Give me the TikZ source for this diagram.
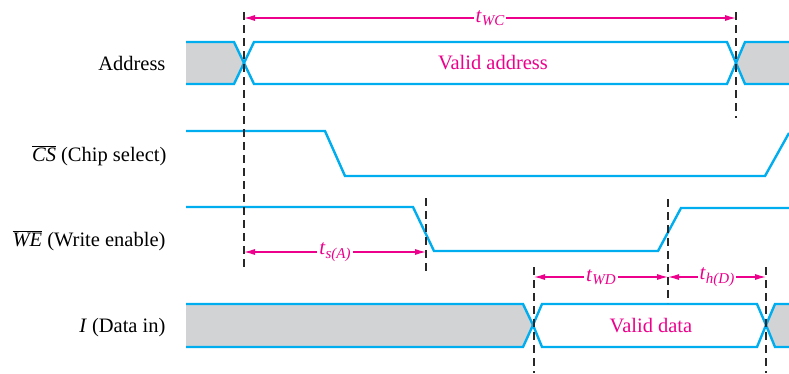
\documentclass[tikz,border=0pt]{standalone}
\usepackage{fontspec}
\setmainfont{Liberation Serif}
\usetikzlibrary{arrows.meta}
\definecolor{sigblue}{RGB}{0,174,239}
\definecolor{tmag}{RGB}{236,0,140}
\definecolor{busgray}{RGB}{209,211,212}
\definecolor{dashgray}{RGB}{40,40,40}
\newcommand{\tsub}[1]{\textit{t}\raisebox{-0.35ex}{\fontsize{15}{17}\selectfont\textit{#1}}}
\tikzset{
  sig/.style={draw=sigblue, line width=2.4pt, line join=miter},
  grayfill/.style={fill=busgray},
  guide/.style={draw=dashgray, line width=1.1pt, dash pattern=on 8pt off 5pt},
  tarrow/.style={draw=tmag, line width=1.2pt, {Latex[length=11pt,width=6pt]}-{Latex[length=11pt,width=6pt]}},
  tlabel/.style={fill=white, text=tmag, inner sep=2pt, font=\fontsize{21}{25}\selectfont},
  siglabel/.style={anchor=base east, font=\fontsize{20.5}{24}\selectfont},
  buslabel/.style={anchor=base, text=tmag, font=\fontsize{20.5}{24}\selectfont}
}
\begin{document}
\begin{tikzpicture}[x=1pt,y=-1pt]
\useasboundingbox (0,0) rectangle (789,373);

% signal labels
\node[siglabel] (lAddr) at (169,70) {Address};
\node[siglabel] (lCS) at (170,161) {$\overline{\hbox{\textit{CS}}}$ (Chip select)};
\node[siglabel] (lWE) at (169,246) {$\overline{\hbox{\textit{WE}}}$ (Write enable)};
\node[siglabel] (lI) at (169,332) {\textit{I} (Data in)};

% Address bus
\fill[grayfill] (186,42) -- (234,42) -- (244,63) -- (234,84) -- (186,84) -- cycle;
\draw[sig] (186,42) -- (234,42) -- (244,63) -- (234,84) -- (186,84);
\draw[sig] (244,63) -- (254,42) -- (727,42) -- (736,63) -- (727,84) -- (254,84) -- cycle;
\fill[grayfill] (789,42) -- (745,42) -- (736,63) -- (745,84) -- (789,84) -- cycle;
\draw[sig] (789,42) -- (745,42) -- (736,63) -- (745,84) -- (789,84);
\node[buslabel] (vaddr) at (493,69) {Valid address};

% CS
\draw[sig] (186,131) -- (325,131) -- (345,176) -- (765,176) -- (789,133);

% WE
\draw[sig] (186,207) -- (413,207) -- (434,251) -- (658,251) -- (681,208) -- (789,208);

% Data bus
\fill[grayfill] (186,304) -- (523,304) -- (533,325) -- (523,347) -- (186,347) -- cycle;
\draw[sig] (186,304) -- (523,304) -- (533,325) -- (523,347) -- (186,347);
\draw[sig] (533,325) -- (542,304) -- (757,304) -- (766,325) -- (757,347) -- (542,347) -- cycle;
\fill[grayfill] (789,304) -- (775,304) -- (766,325) -- (775,347) -- (789,347) -- cycle;
\draw[sig] (789,304) -- (775,304) -- (766,325) -- (775,347) -- (789,347);
\node[buslabel] (vdata) at (651,332) {Valid data};

% guide lines
\coordinate (g1t) at (244,12); \coordinate (g1b) at (244,268);
\coordinate (g2t) at (736,12); \coordinate (g2b) at (736,118);
\coordinate (g3t) at (426,198); \coordinate (g3b) at (426,274);
\coordinate (g4t) at (668,199); \coordinate (g4b) at (668,303);
\coordinate (g5t) at (534,267); \coordinate (g5b) at (534,373);
\coordinate (g6t) at (766,267); \coordinate (g6b) at (766,373);
\foreach \g in {1,...,6} \draw[guide] (g\g t) -- (g\g b);

% timing arrows
\coordinate (aWC1) at (244,18); \coordinate (aWC2) at (736,18);
\draw[tarrow] (aWC1) -- node[tlabel] (tWC) {\tsub{WC}} (aWC2);
\coordinate (aSA1) at (244,252); \coordinate (aSA2) at (426,252);
\draw[tarrow] (aSA1) -- node[tlabel] (tSA) {\tsub{s(A)}} (aSA2);
\coordinate (aWD1) at (534,277); \coordinate (aWD2) at (668,277);
\draw[tarrow] (aWD1) -- node[tlabel] (tWD) {\tsub{WD}} (aWD2);
\coordinate (aHD2) at (766,277);
\draw[tarrow] (aWD2) -- node[tlabel] (tHD) {\tsub{h(D)}} (aHD2);
\end{tikzpicture}
\end{document}
